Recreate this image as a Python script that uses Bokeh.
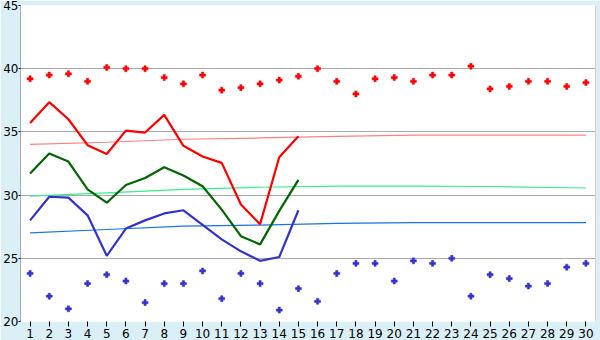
from bokeh.plotting import figure
from bokeh.models import FixedTicker, Span, Range1d
from bokeh.embed import file_html
from bokeh.resources import INLINE

days = list(range(1, 31))
max_temp = [39.2, 39.5, 39.6, 39.0, 40.1, 40.0, 40.0, 39.3, 38.8, 39.5,
            38.3, 38.5, 38.8, 39.1, 39.4, 40.0, 39.0, 38.0, 39.2, 39.3,
            39.0, 39.5, 39.5, 40.2, 38.4, 38.6, 39.0, 39.0, 38.6, 38.9]
min_temp = [23.8, 22.0, 21.0, 23.0, 23.7, 23.2, 21.5, 23.0, 23.0, 24.0,
            21.8, 23.8, 23.0, 20.9, 22.6, 21.6, 23.8, 24.6, 24.6, 23.2,
            24.8, 24.6, 25.0, 22.0, 23.7, 23.4, 22.8, 23.0, 24.3, 24.6]

line_days = list(range(1, 16))
line_high = [35.7, 37.35, 36.0, 33.95, 33.25, 35.1, 34.95, 36.35, 33.9, 33.05,
             32.55, 29.25, 27.7, 33.0, 34.65]
line_mid = [31.7, 33.3, 32.65, 30.45, 29.4, 30.8, 31.35, 32.2, 31.55, 30.7,
            28.85, 26.75, 26.1, 28.75, 31.2]
line_low = [28.0, 29.87, 29.8, 28.4, 25.2, 27.35, 28.0, 28.55, 28.8, 27.65,
            26.5, 25.55, 24.8, 25.1, 28.8]

trend_days = [1, 5, 9, 13, 17, 21, 25, 30]
trend_high = [34.02, 34.18, 34.42, 34.52, 34.64, 34.74, 34.74, 34.74]
trend_mid = [29.92, 30.18, 30.45, 30.62, 30.71, 30.71, 30.68, 30.56]
trend_low = [27.01, 27.28, 27.54, 27.63, 27.76, 27.83, 27.83, 27.83]

y_ticks = [20, 25, 30, 35, 40, 45]

p = figure(width=600, height=340, output_backend="svg", toolbar_location=None,
           x_range=Range1d(0.5, 30.5), y_range=Range1d(20, 45),
           min_border_left=0, min_border_right=5, min_border_top=5, min_border_bottom=0)

p.border_fill_color = "#DAEFF6"
p.background_fill_color = "white"
p.outline_line_color = None

p.xgrid.grid_line_color = None
p.ygrid.ticker = FixedTicker(ticks=y_ticks[1:])
p.ygrid.grid_line_color = "#AAAAAA"
p.ygrid.grid_line_width = 1

p.yaxis.ticker = FixedTicker(ticks=y_ticks)
p.xaxis.ticker = FixedTicker(ticks=days)
for ax in (p.xaxis, p.yaxis):
    ax.major_label_text_font = "DejaVu Sans"
    ax.major_label_text_font_size = "12px"
    ax.major_label_text_color = "black"
    ax.major_tick_line_color = "black"
    ax.major_tick_in = 0
    ax.minor_tick_line_color = None
p.yaxis.major_label_standoff = 0
p.xaxis.major_label_standoff = 2
p.yaxis.axis_line_color = "#AAAAAA"
p.yaxis.major_tick_out = 2
p.xaxis.axis_line_color = None
p.xaxis.major_tick_out = 5

p.add_layout(Span(location=30.5, dimension="height", line_color="#AAAAAA", line_width=1))

p.line(trend_days, trend_high, line_color="#FF8080", line_width=1.2)
p.line(trend_days, trend_mid, line_color="#33F08C", line_width=1.2)
p.line(trend_days, trend_low, line_color="#1A73E8", line_width=1.2)

p.line(line_days, line_high, line_color="#FF0000", line_width=2.2)
p.line(line_days, line_mid, line_color="#006600", line_width=2.2)
p.line(line_days, line_low, line_color="#3333CC", line_width=2.2)

p.scatter(days, max_temp, marker="plus", size=6, fill_color="#FF0000", line_color="#FF0000", line_width=0.5)
p.scatter(days, min_temp, marker="plus", size=6, fill_color="#3333CC", line_color="#3333CC", line_width=0.5)

open("out.html", "w").write(file_html(p, INLINE))
